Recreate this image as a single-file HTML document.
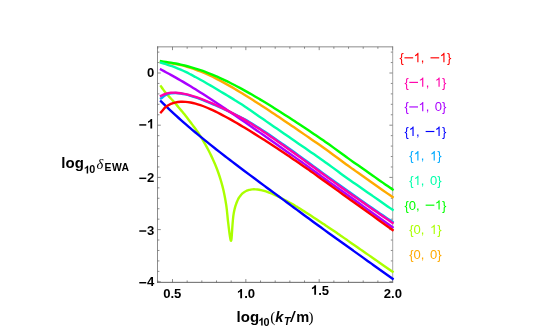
<!DOCTYPE html><html><head><meta charset="utf-8"><style>html,body{margin:0;padding:0;background:#fff}svg{display:block}text{font-family:"Liberation Sans",sans-serif}.b{font-weight:bold}.s{font-family:"Liberation Serif",serif;font-style:italic}.p{font-family:"Liberation Serif",serif}</style></head><body>
<svg width="548" height="329" viewBox="0 0 548 329">
<rect width="548" height="329" fill="#fff"/>
<defs><clipPath id="c"><rect x="157.5" y="46.5" width="237.10000000000002" height="236.0"/></clipPath></defs>
<path d="M157.83,282.35 v-1.90 M157.83,46.85 v1.90 M172.50,282.35 v-3.30 M172.50,46.85 v3.30 M187.17,282.35 v-1.90 M187.17,46.85 v1.90 M201.84,282.35 v-1.90 M201.84,46.85 v1.90 M216.51,282.35 v-1.90 M216.51,46.85 v1.90 M231.18,282.35 v-1.90 M231.18,46.85 v1.90 M245.85,282.35 v-3.30 M245.85,46.85 v3.30 M260.52,282.35 v-1.90 M260.52,46.85 v1.90 M275.19,282.35 v-1.90 M275.19,46.85 v1.90 M289.86,282.35 v-1.90 M289.86,46.85 v1.90 M304.53,282.35 v-1.90 M304.53,46.85 v1.90 M319.20,282.35 v-3.30 M319.20,46.85 v3.30 M333.87,282.35 v-1.90 M333.87,46.85 v1.90 M348.54,282.35 v-1.90 M348.54,46.85 v1.90 M363.21,282.35 v-1.90 M363.21,46.85 v1.90 M377.88,282.35 v-1.90 M377.88,46.85 v1.90 M392.55,282.35 v-3.30 M392.55,46.85 v3.30 M157.50,281.80 h3.30 M392.70,281.80 h-3.30 M157.50,271.36 h1.90 M392.70,271.36 h-1.90 M157.50,260.92 h1.90 M392.70,260.92 h-1.90 M157.50,250.48 h1.90 M392.70,250.48 h-1.90 M157.50,240.04 h1.90 M392.70,240.04 h-1.90 M157.50,229.60 h3.30 M392.70,229.60 h-3.30 M157.50,219.16 h1.90 M392.70,219.16 h-1.90 M157.50,208.72 h1.90 M392.70,208.72 h-1.90 M157.50,198.28 h1.90 M392.70,198.28 h-1.90 M157.50,187.84 h1.90 M392.70,187.84 h-1.90 M157.50,177.40 h3.30 M392.70,177.40 h-3.30 M157.50,166.96 h1.90 M392.70,166.96 h-1.90 M157.50,156.52 h1.90 M392.70,156.52 h-1.90 M157.50,146.08 h1.90 M392.70,146.08 h-1.90 M157.50,135.64 h1.90 M392.70,135.64 h-1.90 M157.50,125.20 h3.30 M392.70,125.20 h-3.30 M157.50,114.76 h1.90 M392.70,114.76 h-1.90 M157.50,104.32 h1.90 M392.70,104.32 h-1.90 M157.50,93.88 h1.90 M392.70,93.88 h-1.90 M157.50,83.44 h1.90 M392.70,83.44 h-1.90 M157.50,73.00 h3.30 M392.70,73.00 h-3.30 M157.50,62.56 h1.90 M392.70,62.56 h-1.90 M157.50,52.12 h1.90 M392.70,52.12 h-1.90" fill="none" stroke="#666" stroke-width="0.75"/>
<path d="M157.50,46.45 V282.75" fill="none" stroke="#666" stroke-width="0.75"/>
<path d="M157.10,46.85 H393.10" fill="none" stroke="#666" stroke-width="0.75"/>
<path d="M157.10,282.35 H393.10" fill="none" stroke="#555" stroke-width="0.9"/>
<path d="M392.70,46.45 V282.75" fill="none" stroke="#888" stroke-width="0.75"/>
<g clip-path="url(#c)">
<path d="M161.00,61.98 C162.64,62.21 164.29,62.44 165.93,62.68 C167.57,62.91 169.22,63.12 170.86,63.37 C172.50,63.63 174.15,63.89 175.78,64.19 C177.43,64.49 179.08,64.82 180.71,65.19 C182.36,65.56 184.01,65.96 185.64,66.40 C187.29,66.85 188.93,67.34 190.57,67.85 C192.22,68.37 193.86,68.93 195.49,69.52 C197.15,70.12 198.79,70.75 200.42,71.40 C202.08,72.07 203.72,72.76 205.35,73.48 C207.00,74.20 208.64,74.96 210.28,75.73 C211.93,76.51 213.57,77.32 215.20,78.14 C216.86,78.97 218.50,79.82 220.13,80.68 C221.78,81.56 223.42,82.45 225.06,83.35 C226.71,84.26 228.35,85.19 229.99,86.12 C231.64,87.07 233.28,88.02 234.91,88.99 C236.56,89.96 238.21,90.94 239.84,91.93 C241.49,92.93 243.13,93.93 244.77,94.95 C246.42,95.96 248.06,96.99 249.70,98.02 C251.34,99.06 252.99,100.10 254.63,101.15 C256.27,102.20 257.91,103.26 259.55,104.32 C261.20,105.38 262.84,106.45 264.48,107.53 C266.13,108.60 267.77,109.69 269.41,110.77 C271.05,111.86 272.70,112.95 274.34,114.04 C275.98,115.14 277.62,116.24 279.26,117.34 C280.91,118.45 282.55,119.55 284.19,120.66 C285.84,121.77 287.48,122.89 289.12,124.00 C290.76,125.12 292.41,126.24 294.05,127.36 C295.69,128.48 297.33,129.61 298.97,130.73 C300.62,131.86 302.26,132.99 303.90,134.12 C305.55,135.25 307.19,136.38 308.83,137.52 C310.47,138.65 312.12,139.79 313.76,140.93 C315.40,142.06 317.05,143.20 318.69,144.34 C320.33,145.49 321.98,146.64 323.61,147.80 C325.26,148.97 326.90,150.15 328.54,151.34 C330.19,152.53 331.83,153.74 333.47,154.94 C335.11,156.15 336.75,157.36 338.40,158.57 C340.04,159.79 341.68,161.00 343.32,162.21 C344.96,163.41 346.60,164.62 348.25,165.81 C349.89,167.00 351.53,168.18 353.18,169.35 C354.82,170.52 356.46,171.67 358.11,172.82 C359.75,173.98 361.39,175.13 363.03,176.29 C364.68,177.45 366.32,178.60 367.96,179.76 C369.60,180.91 371.25,182.07 372.89,183.23 C374.53,184.38 376.17,185.54 377.82,186.69 C379.46,187.85 381.10,189.00 382.74,190.15 C384.39,191.31 386.03,192.46 387.67,193.61 C389.31,194.76 390.96,195.91 392.60,197.06" fill="none" stroke="#ffaa00" stroke-width="2.4" stroke-linejoin="round" stroke-linecap="square"/>
<path d="M161.00,86.36 C161.64,87.29 162.25,88.24 162.92,89.14 C163.54,89.99 164.18,90.81 164.84,91.63 C165.46,92.40 166.11,93.16 166.76,93.91 C167.39,94.64 168.03,95.36 168.68,96.08 C169.31,96.79 169.96,97.49 170.60,98.19 C171.24,98.88 171.88,99.57 172.52,100.27 C173.16,100.98 173.81,101.70 174.44,102.42 C175.09,103.15 175.72,103.89 176.36,104.63 C177.00,105.38 177.64,106.14 178.28,106.90 C178.92,107.66 179.56,108.44 180.20,109.21 C180.84,109.98 181.48,110.76 182.12,111.53 C182.76,112.31 183.41,113.08 184.04,113.87 C184.69,114.66 185.33,115.46 185.96,116.27 C186.61,117.09 187.25,117.91 187.88,118.74 C188.53,119.59 189.16,120.44 189.80,121.30 C190.44,122.15 191.08,123.01 191.72,123.87 C192.36,124.72 193.00,125.56 193.64,126.41 C194.28,127.27 194.93,128.12 195.56,128.99 C196.21,129.88 196.85,130.77 197.48,131.67 C198.13,132.62 198.78,133.58 199.40,134.54 C200.06,135.56 200.69,136.59 201.32,137.63 C201.97,138.69 202.61,139.76 203.24,140.83 C203.89,141.94 204.53,143.05 205.16,144.17 C205.81,145.32 206.45,146.48 207.08,147.65 C207.73,148.86 208.37,150.07 209.00,151.29 C209.65,152.56 210.29,153.85 210.92,155.13 C211.58,156.48 212.22,157.84 212.84,159.21 C213.50,160.65 214.14,162.11 214.76,163.57 C215.42,165.14 216.06,166.71 216.68,168.30 C217.35,170.02 217.99,171.76 218.60,173.50 C219.28,175.44 219.92,177.39 220.52,179.35 C221.21,181.60 221.85,183.86 222.44,186.14 C223.15,188.87 223.79,191.63 224.36,194.40 C225.11,198.02 225.73,201.69 226.28,205.35 C227.15,211.17 227.45,217.07 228.20,222.91 C228.96,228.82 230.02,239.32 230.80,240.60 C232.01,242.59 232.03,222.00 233.80,212.88 C233.86,212.58 233.92,212.27 233.98,211.96 C234.10,211.39 234.22,210.81 234.35,210.24 C234.51,209.55 234.67,208.86 234.85,208.17 C235.04,207.43 235.25,206.70 235.47,205.97 C235.69,205.24 235.92,204.51 236.18,203.79 C236.43,203.09 236.70,202.39 236.99,201.70 C237.27,201.05 237.56,200.40 237.88,199.76 C238.19,199.16 238.51,198.56 238.85,197.98 C239.18,197.44 239.53,196.90 239.90,196.38 C240.25,195.90 240.63,195.42 241.02,194.96 C241.40,194.53 241.80,194.11 242.21,193.72 C242.61,193.34 243.03,192.98 243.47,192.64 C243.89,192.32 244.33,192.01 244.79,191.73 C245.24,191.46 245.70,191.21 246.17,190.98 C246.64,190.75 247.13,190.55 247.62,190.37 C248.11,190.20 248.61,190.04 249.12,189.91 C249.63,189.78 250.16,189.67 250.68,189.58 C251.22,189.50 251.76,189.43 252.30,189.39 C252.85,189.34 253.41,189.32 253.97,189.31 C254.54,189.31 255.12,189.32 255.69,189.36 C256.29,189.39 256.88,189.45 257.47,189.51 C258.08,189.58 258.69,189.68 259.30,189.78 C259.93,189.88 260.56,190.01 261.18,190.15 C261.83,190.29 262.47,190.45 263.11,190.61 C263.77,190.79 264.43,190.98 265.09,191.18 C265.77,191.38 266.44,191.60 267.12,191.83 C267.81,192.07 268.50,192.32 269.19,192.57 C269.90,192.84 270.61,193.12 271.31,193.40 C272.04,193.69 272.76,194.00 273.48,194.31 C274.22,194.63 274.95,194.96 275.69,195.29 C276.44,195.64 277.20,196.00 277.94,196.36 C278.71,196.73 279.48,197.11 280.24,197.49 C281.03,197.89 281.81,198.29 282.59,198.70 C283.39,199.11 284.18,199.54 284.98,199.97 C285.79,200.41 286.60,200.85 287.40,201.30 C288.23,201.76 289.05,202.23 289.88,202.70 C290.72,203.18 291.55,203.66 292.39,204.15 C293.24,204.65 294.09,205.16 294.94,205.67 C295.81,206.18 296.67,206.71 297.54,207.23 C298.42,207.77 299.30,208.31 300.17,208.85 C301.07,209.40 301.96,209.96 302.85,210.52 C303.75,211.09 304.66,211.66 305.56,212.23 C306.48,212.82 307.40,213.40 308.31,213.99 C309.25,214.59 310.18,215.19 311.11,215.80 C312.05,216.41 312.99,217.02 313.94,217.64 C314.89,218.27 315.85,218.89 316.81,219.52 C317.77,220.16 318.74,220.80 319.71,221.44 C320.69,222.09 321.67,222.75 322.65,223.40 C323.65,224.06 324.64,224.72 325.63,225.39 C326.64,226.06 327.65,226.74 328.65,227.41 C329.67,228.10 330.69,228.78 331.70,229.47 C332.74,230.16 333.77,230.86 334.79,231.57 C335.84,232.28 336.88,232.99 337.92,233.71 C338.97,234.44 340.03,235.17 341.08,235.90 C342.15,236.63 343.21,237.37 344.28,238.12 C345.35,238.87 346.43,239.62 347.51,240.37 C348.60,241.13 349.69,241.89 350.77,242.65 C351.87,243.42 352.97,244.19 354.08,244.95 C355.19,245.73 356.30,246.51 357.41,247.28 C358.53,248.06 359.66,248.84 360.78,249.62 C361.91,250.41 363.05,251.20 364.18,251.99 C365.33,252.78 366.47,253.58 367.62,254.37 C368.78,255.18 369.93,255.98 371.09,256.78 C372.26,257.59 373.42,258.40 374.59,259.22 C375.77,260.03 376.95,260.85 378.13,261.67 C379.32,262.49 380.51,263.32 381.70,264.14 C382.90,264.98 384.10,265.81 385.30,266.64 C386.51,267.48 387.72,268.32 388.93,269.16 C390.16,270.01 391.38,270.85 392.60,271.70" fill="none" stroke="#aaff00" stroke-width="2.4" stroke-linejoin="miter" stroke-miterlimit="10" stroke-linecap="square"/>
<path d="M161.00,61.22 C162.64,61.45 164.29,61.66 165.93,61.90 C167.57,62.14 169.22,62.39 170.86,62.67 C172.50,62.94 174.14,63.23 175.78,63.55 C177.43,63.87 179.07,64.21 180.71,64.57 C182.36,64.93 184.00,65.32 185.64,65.73 C187.29,66.15 188.93,66.58 190.57,67.05 C192.22,67.51 193.86,68.00 195.49,68.52 C197.14,69.03 198.79,69.57 200.42,70.14 C202.07,70.71 203.71,71.30 205.35,71.91 C207.00,72.53 208.64,73.17 210.28,73.82 C211.93,74.49 213.57,75.17 215.20,75.87 C216.85,76.58 218.50,77.31 220.13,78.05 C221.78,78.80 223.42,79.57 225.06,80.35 C226.71,81.14 228.35,81.95 229.99,82.77 C231.64,83.59 233.28,84.43 234.91,85.28 C236.56,86.14 238.21,87.01 239.84,87.89 C241.49,88.77 243.13,89.67 244.77,90.58 C246.42,91.49 248.06,92.42 249.70,93.35 C251.35,94.29 252.99,95.24 254.63,96.20 C256.27,97.16 257.91,98.13 259.55,99.10 C261.20,100.09 262.84,101.08 264.48,102.07 C266.13,103.07 267.77,104.08 269.41,105.09 C271.05,106.11 272.70,107.13 274.34,108.16 C275.98,109.19 277.62,110.22 279.26,111.26 C280.91,112.31 282.55,113.36 284.19,114.41 C285.84,115.47 287.48,116.53 289.12,117.59 C290.76,118.66 292.41,119.73 294.05,120.81 C295.69,121.88 297.33,122.97 298.97,124.05 C300.62,125.13 302.26,126.22 303.90,127.31 C305.55,128.41 307.19,129.51 308.83,130.60 C310.47,131.70 312.12,132.81 313.76,133.91 C315.40,135.02 317.05,136.13 318.69,137.24 C320.33,138.36 321.98,139.48 323.61,140.61 C325.26,141.76 326.90,142.92 328.54,144.09 C330.19,145.26 331.83,146.44 333.47,147.63 C335.11,148.82 336.75,150.02 338.40,151.22 C340.04,152.41 341.68,153.61 343.32,154.81 C344.96,156.00 346.60,157.20 348.25,158.38 C349.89,159.56 351.53,160.73 353.18,161.90 C354.82,163.06 356.46,164.20 358.11,165.35 C359.75,166.50 361.39,167.65 363.03,168.80 C364.68,169.95 366.32,171.10 367.96,172.26 C369.60,173.41 371.25,174.56 372.89,175.71 C374.53,176.87 376.17,178.02 377.82,179.17 C379.46,180.33 381.10,181.48 382.74,182.64 C384.39,183.79 386.03,184.94 387.67,186.10 C389.31,187.25 390.96,188.41 392.60,189.56" fill="none" stroke="#00ff00" stroke-width="2.4" stroke-linejoin="round" stroke-linecap="square"/>
<path d="M161.00,62.69 C162.64,63.20 164.29,63.71 165.93,64.23 C167.57,64.75 169.22,65.26 170.86,65.81 C172.51,66.37 174.16,66.92 175.78,67.55 C177.44,68.19 179.08,68.89 180.71,69.60 C182.37,70.33 184.01,71.09 185.64,71.89 C187.30,72.69 188.93,73.55 190.57,74.40 C192.22,75.27 193.85,76.17 195.49,77.06 C197.14,77.95 198.78,78.82 200.42,79.72 C202.07,80.62 203.72,81.52 205.35,82.45 C207.00,83.40 208.64,84.38 210.28,85.35 C211.92,86.34 213.56,87.34 215.20,88.33 C216.84,89.32 218.48,90.31 220.13,91.28 C221.77,92.25 223.42,93.18 225.06,94.14 C226.71,95.12 228.35,96.10 229.99,97.10 C231.64,98.11 233.27,99.14 234.91,100.16 C236.56,101.19 238.21,102.21 239.84,103.26 C241.49,104.31 243.14,105.38 244.77,106.46 C246.43,107.57 248.06,108.71 249.70,109.84 C251.34,110.97 252.98,112.12 254.63,113.26 C256.27,114.40 257.91,115.54 259.55,116.68 C261.20,117.82 262.84,118.95 264.48,120.09 C266.12,121.23 267.77,122.37 269.41,123.50 C271.05,124.64 272.69,125.77 274.34,126.91 C275.98,128.04 277.62,129.18 279.26,130.31 C280.91,131.45 282.55,132.58 284.19,133.71 C285.83,134.85 287.48,135.98 289.12,137.11 C290.76,138.25 292.40,139.38 294.05,140.51 C295.69,141.64 297.33,142.77 298.97,143.91 C300.62,145.04 302.26,146.17 303.90,147.30 C305.54,148.44 307.19,149.57 308.83,150.70 C310.47,151.83 312.12,152.97 313.76,154.10 C315.40,155.23 317.05,156.36 318.69,157.50 C320.33,158.65 321.98,159.79 323.61,160.95 C325.26,162.12 326.90,163.32 328.54,164.51 C330.19,165.72 331.83,166.93 333.47,168.15 C335.11,169.37 336.75,170.59 338.40,171.81 C340.04,173.02 341.67,174.23 343.32,175.43 C344.96,176.62 346.60,177.80 348.25,178.97 C349.89,180.12 351.54,181.26 353.18,182.40 C354.82,183.55 356.46,184.69 358.11,185.83 C359.75,186.98 361.39,188.12 363.03,189.26 C364.68,190.41 366.32,191.55 367.96,192.70 C369.60,193.84 371.25,194.98 372.89,196.13 C374.53,197.27 376.17,198.42 377.82,199.56 C379.46,200.70 381.10,201.85 382.74,202.99 C384.39,204.13 386.03,205.28 387.67,206.42 C389.31,207.56 390.96,208.70 392.60,209.84" fill="none" stroke="#00ffaa" stroke-width="2.4" stroke-linejoin="round" stroke-linecap="square"/>
<path d="M161.00,98.40 C162.64,97.28 164.15,95.88 165.93,95.03 C167.47,94.29 169.17,93.75 170.86,93.42 C172.46,93.11 174.14,93.05 175.78,93.06 C177.43,93.07 179.08,93.27 180.71,93.49 C182.37,93.73 184.01,94.06 185.64,94.44 C187.30,94.83 188.93,95.32 190.57,95.81 C192.22,96.32 193.86,96.87 195.49,97.44 C197.14,98.00 198.79,98.59 200.42,99.20 C202.07,99.82 203.71,100.47 205.35,101.12 C207.00,101.78 208.64,102.47 210.28,103.16 C211.92,103.85 213.57,104.55 215.20,105.27 C216.85,105.99 218.49,106.73 220.13,107.47 C221.78,108.21 223.42,108.97 225.06,109.72 C226.70,110.47 228.35,111.21 229.99,111.97 C231.64,112.74 233.28,113.52 234.91,114.31 C236.56,115.11 238.21,115.91 239.84,116.74 C241.50,117.59 243.14,118.47 244.77,119.37 C246.43,120.28 248.07,121.22 249.70,122.17 C251.35,123.15 252.99,124.14 254.63,125.16 C256.28,126.18 257.92,127.23 259.55,128.29 C261.20,129.36 262.84,130.44 264.48,131.53 C266.13,132.62 267.77,133.73 269.41,134.84 C271.06,135.96 272.70,137.09 274.34,138.22 C275.98,139.35 277.62,140.49 279.26,141.63 C280.91,142.77 282.55,143.91 284.19,145.06 C285.84,146.22 287.48,147.38 289.12,148.54 C290.77,149.71 292.41,150.89 294.05,152.07 C295.69,153.25 297.33,154.44 298.97,155.63 C300.62,156.83 302.26,158.03 303.90,159.22 C305.55,160.42 307.19,161.63 308.83,162.83 C310.47,164.03 312.11,165.24 313.76,166.44 C315.40,167.64 317.04,168.85 318.69,170.05 C320.33,171.24 321.97,172.44 323.61,173.64 C325.25,174.83 326.90,176.02 328.54,177.21 C330.18,178.39 331.82,179.57 333.47,180.75 C335.11,181.93 336.75,183.10 338.40,184.27 C340.04,185.44 341.68,186.61 343.32,187.78 C344.97,188.95 346.61,190.12 348.25,191.29 C349.89,192.45 351.53,193.61 353.18,194.77 C354.82,195.93 356.46,197.09 358.11,198.25 C359.75,199.40 361.39,200.55 363.03,201.70 C364.68,202.85 366.32,204.00 367.96,205.14 C369.60,206.29 371.25,207.43 372.89,208.56 C374.53,209.70 376.17,210.83 377.82,211.96 C379.46,213.09 381.10,214.21 382.74,215.34 C384.39,216.46 386.03,217.58 387.67,218.69 C389.31,219.80 390.96,220.91 392.60,222.02" fill="none" stroke="#00aaff" stroke-width="2.4" stroke-linejoin="round" stroke-linecap="square"/>
<path d="M161.00,101.34 C162.64,102.96 164.27,104.58 165.93,106.18 C167.56,107.76 169.20,109.31 170.86,110.86 C172.49,112.39 174.13,113.90 175.78,115.40 C177.42,116.89 179.06,118.36 180.71,119.83 C182.34,121.28 183.99,122.72 185.64,124.15 C187.27,125.57 188.92,126.98 190.57,128.38 C192.20,129.78 193.85,131.16 195.49,132.54 C197.13,133.91 198.77,135.27 200.42,136.63 C202.06,137.97 203.70,139.31 205.35,140.65 C206.99,141.98 208.63,143.30 210.28,144.62 C211.92,145.93 213.56,147.23 215.20,148.53 C216.84,149.83 218.49,151.12 220.13,152.40 C221.77,153.68 223.41,154.96 225.06,156.23 C226.70,157.50 228.34,158.76 229.99,160.03 C231.63,161.28 233.27,162.54 234.91,163.79 C236.56,165.03 238.20,166.28 239.84,167.52 C241.48,168.76 243.13,169.99 244.77,171.22 C246.41,172.45 248.05,173.68 249.70,174.91 C251.34,176.13 252.98,177.35 254.63,178.57 C256.27,179.79 257.91,181.00 259.55,182.21 C261.20,183.43 262.84,184.64 264.48,185.85 C266.12,187.06 267.77,188.28 269.41,189.49 C271.05,190.70 272.69,191.91 274.34,193.13 C275.98,194.34 277.62,195.55 279.26,196.77 C280.91,197.98 282.55,199.19 284.19,200.41 C285.83,201.62 287.48,202.83 289.12,204.04 C290.76,205.26 292.40,206.47 294.05,207.68 C295.69,208.89 297.33,210.10 298.97,211.31 C300.62,212.52 302.26,213.73 303.90,214.94 C305.54,216.14 307.19,217.35 308.83,218.56 C310.47,219.76 312.11,220.96 313.76,222.17 C315.40,223.37 317.04,224.57 318.69,225.77 C320.33,226.96 321.97,228.16 323.61,229.35 C325.25,230.55 326.90,231.74 328.54,232.93 C330.18,234.12 331.82,235.30 333.47,236.49 C335.11,237.67 336.75,238.85 338.40,240.03 C340.04,241.20 341.68,242.38 343.32,243.55 C344.97,244.73 346.61,245.90 348.25,247.07 C349.89,248.25 351.54,249.42 353.18,250.60 C354.82,251.77 356.46,252.94 358.11,254.11 C359.75,255.29 361.39,256.46 363.03,257.63 C364.68,258.81 366.32,259.98 367.96,261.15 C369.60,262.32 371.25,263.49 372.89,264.67 C374.53,265.84 376.17,267.01 377.82,268.18 C379.46,269.35 381.10,270.52 382.74,271.69 C384.39,272.87 386.03,274.04 387.67,275.21 C389.31,276.38 390.96,277.55 392.60,278.72" fill="none" stroke="#0000ff" stroke-width="2.4" stroke-linejoin="round" stroke-linecap="square"/>
<path d="M161.00,69.50 C162.64,70.39 164.29,71.29 165.93,72.19 C167.57,73.09 169.22,73.99 170.86,74.90 C172.50,75.81 174.14,76.72 175.78,77.65 C177.43,78.58 179.07,79.52 180.71,80.47 C182.36,81.42 184.00,82.38 185.64,83.35 C187.29,84.33 188.93,85.32 190.57,86.31 C192.21,87.31 193.86,88.32 195.49,89.34 C197.14,90.36 198.78,91.39 200.42,92.43 C202.07,93.47 203.71,94.52 205.35,95.58 C207.00,96.64 208.64,97.70 210.28,98.77 C211.92,99.85 213.56,100.93 215.20,102.01 C216.85,103.10 218.49,104.19 220.13,105.29 C221.78,106.39 223.42,107.49 225.06,108.60 C226.70,109.71 228.35,110.82 229.99,111.94 C231.63,113.06 233.27,114.18 234.91,115.30 C236.56,116.43 238.20,117.55 239.84,118.68 C241.49,119.82 243.13,120.95 244.77,122.08 C246.41,123.22 248.06,124.36 249.70,125.50 C251.34,126.64 252.98,127.78 254.63,128.93 C256.27,130.07 257.91,131.22 259.55,132.36 C261.20,133.51 262.84,134.66 264.48,135.81 C266.12,136.96 267.77,138.12 269.41,139.27 C271.05,140.42 272.69,141.58 274.34,142.73 C275.98,143.89 277.62,145.05 279.26,146.20 C280.91,147.36 282.55,148.52 284.19,149.68 C285.83,150.84 287.48,152.00 289.12,153.16 C290.76,154.32 292.40,155.48 294.05,156.64 C295.69,157.81 297.33,158.97 298.97,160.13 C300.62,161.30 302.26,162.46 303.90,163.64 C305.55,164.81 307.19,165.99 308.83,167.18 C310.47,168.36 312.12,169.55 313.76,170.74 C315.40,171.93 317.04,173.13 318.69,174.32 C320.33,175.51 321.97,176.71 323.61,177.90 C325.25,179.09 326.90,180.28 328.54,181.46 C330.18,182.65 331.82,183.83 333.47,185.01 C335.11,186.19 336.75,187.36 338.40,188.53 C340.04,189.70 341.68,190.88 343.32,192.05 C344.97,193.22 346.61,194.40 348.25,195.57 C349.89,196.74 351.54,197.91 353.18,199.09 C354.82,200.26 356.46,201.43 358.11,202.60 C359.75,203.78 361.39,204.95 363.03,206.12 C364.68,207.29 366.32,208.46 367.96,209.63 C369.60,210.81 371.25,211.98 372.89,213.15 C374.53,214.32 376.17,215.49 377.82,216.66 C379.46,217.83 381.10,219.00 382.74,220.16 C384.39,221.33 386.03,222.50 387.67,223.67 C389.31,224.84 390.96,226.00 392.60,227.17" fill="none" stroke="#aa00ff" stroke-width="2.4" stroke-linejoin="round" stroke-linecap="square"/>
<path d="M161.00,95.90 C162.64,95.18 164.22,94.26 165.93,93.74 C167.52,93.25 169.20,92.98 170.86,92.81 C172.48,92.64 174.14,92.64 175.78,92.70 C177.43,92.77 179.08,92.95 180.71,93.19 C182.36,93.42 184.01,93.76 185.64,94.12 C187.29,94.50 188.93,94.94 190.57,95.40 C192.22,95.87 193.86,96.40 195.49,96.94 C197.15,97.49 198.79,98.08 200.42,98.68 C202.07,99.29 203.71,99.92 205.35,100.58 C207.00,101.24 208.64,101.92 210.28,102.61 C211.93,103.31 213.57,104.03 215.20,104.77 C216.85,105.51 218.50,106.26 220.13,107.03 C221.78,107.81 223.42,108.60 225.06,109.41 C226.71,110.22 228.35,111.04 229.99,111.88 C231.64,112.72 233.28,113.58 234.91,114.45 C236.56,115.33 238.21,116.21 239.84,117.11 C241.49,118.03 243.14,118.95 244.77,119.90 C246.42,120.86 248.06,121.84 249.70,122.84 C251.35,123.84 252.99,124.87 254.63,125.90 C256.28,126.95 257.92,128.01 259.55,129.08 C261.20,130.15 262.84,131.25 264.48,132.34 C266.13,133.45 267.77,134.56 269.41,135.68 C271.06,136.80 272.70,137.93 274.34,139.06 C275.98,140.20 277.62,141.34 279.26,142.48 C280.91,143.63 282.55,144.77 284.19,145.92 C285.84,147.08 287.48,148.24 289.12,149.40 C290.77,150.58 292.41,151.76 294.05,152.94 C295.69,154.12 297.33,155.31 298.97,156.50 C300.62,157.70 302.26,158.90 303.90,160.10 C305.55,161.30 307.19,162.50 308.83,163.71 C310.47,164.91 312.11,166.12 313.76,167.32 C315.40,168.52 317.04,169.73 318.69,170.93 C320.33,172.13 321.97,173.33 323.61,174.52 C325.25,175.72 326.90,176.91 328.54,178.10 C330.18,179.28 331.82,180.46 333.47,181.64 C335.11,182.82 336.75,183.99 338.40,185.16 C340.04,186.34 341.68,187.51 343.32,188.68 C344.97,189.85 346.61,191.01 348.25,192.18 C349.89,193.34 351.53,194.51 353.18,195.67 C354.82,196.83 356.46,197.99 358.11,199.14 C359.75,200.30 361.39,201.45 363.03,202.60 C364.68,203.75 366.32,204.90 367.96,206.04 C369.60,207.18 371.25,208.32 372.89,209.46 C374.53,210.60 376.17,211.73 377.82,212.86 C379.46,213.99 381.10,215.11 382.74,216.24 C384.39,217.36 386.03,218.48 387.67,219.59 C389.31,220.70 390.96,221.81 392.60,222.92" fill="none" stroke="#ff00aa" stroke-width="2.4" stroke-linejoin="round" stroke-linecap="square"/>
<path d="M161.00,112.26 C162.64,110.44 164.03,108.31 165.93,106.80 C167.41,105.62 169.11,104.59 170.86,103.83 C172.42,103.15 174.11,102.67 175.78,102.32 C177.40,101.99 179.06,101.82 180.71,101.74 C182.35,101.66 184.00,101.71 185.64,101.84 C187.29,101.97 188.94,102.23 190.57,102.53 C192.22,102.83 193.87,103.23 195.49,103.67 C197.15,104.11 198.79,104.63 200.42,105.18 C202.08,105.75 203.72,106.36 205.35,107.01 C207.01,107.66 208.65,108.36 210.28,109.09 C211.93,109.82 213.57,110.59 215.20,111.38 C216.86,112.18 218.50,113.01 220.13,113.85 C221.78,114.70 223.42,115.57 225.06,116.45 C226.71,117.35 228.35,118.25 229.99,119.17 C231.64,120.09 233.28,121.03 234.91,121.97 C236.56,122.92 238.21,123.88 239.84,124.85 C241.49,125.83 243.13,126.81 244.77,127.80 C246.42,128.80 248.06,129.81 249.70,130.82 C251.34,131.83 252.98,132.86 254.63,133.88 C256.27,134.90 257.91,135.92 259.55,136.95 C261.20,137.99 262.84,139.02 264.48,140.06 C266.13,141.10 267.77,142.15 269.41,143.21 C271.06,144.27 272.70,145.33 274.34,146.40 C275.98,147.48 277.63,148.57 279.26,149.67 C280.91,150.77 282.55,151.88 284.19,152.98 C285.84,154.09 287.48,155.20 289.12,156.32 C290.76,157.43 292.41,158.55 294.05,159.67 C295.69,160.79 297.33,161.90 298.97,163.03 C300.62,164.16 302.26,165.28 303.90,166.42 C305.55,167.57 307.19,168.72 308.83,169.88 C310.48,171.04 312.12,172.22 313.76,173.39 C315.40,174.56 317.04,175.75 318.69,176.93 C320.33,178.11 321.97,179.30 323.61,180.49 C325.26,181.67 326.90,182.86 328.54,184.05 C330.18,185.23 331.82,186.42 333.47,187.60 C335.11,188.77 336.75,189.95 338.40,191.12 C340.04,192.30 341.68,193.48 343.32,194.65 C344.97,195.83 346.61,197.01 348.25,198.19 C349.89,199.36 351.54,200.54 353.18,201.72 C354.82,202.90 356.46,204.08 358.11,205.26 C359.75,206.44 361.39,207.62 363.03,208.80 C364.68,209.98 366.32,211.16 367.96,212.34 C369.60,213.52 371.25,214.70 372.89,215.88 C374.53,217.06 376.17,218.24 377.82,219.42 C379.46,220.60 381.10,221.78 382.74,222.96 C384.39,224.14 386.03,225.32 387.67,226.50 C389.31,227.68 390.96,228.86 392.60,230.04" fill="none" stroke="#ff0000" stroke-width="2.4" stroke-linejoin="round" stroke-linecap="square"/>
</g>
<defs><mask id="m" maskUnits="userSpaceOnUse" x="0" y="0" width="548" height="329"><rect width="548" height="329" fill="#fff"/></mask></defs><g mask="url(#m)">
<text class="b" x="163.20" y="298.30" font-size="13.1">0</text><text class="b" x="170.48" y="298.30" font-size="13.1">.</text><text class="b" x="174.12" y="298.30" font-size="13.1">5</text>
<path d="M806,0H525V1059Q371,915 162,846V1101Q272,1137 401,1237.5Q530,1338 578,1472H806Z" fill="#000" transform="translate(236.90,298.30) scale(0.00640,-0.00640)"/><text class="b" x="244.18" y="298.30" font-size="13.1">.</text><text class="b" x="247.82" y="298.30" font-size="13.1">0</text>
<path d="M806,0H525V1059Q371,915 162,846V1101Q272,1137 401,1237.5Q530,1338 578,1472H806Z" fill="#000" transform="translate(310.90,294.70) scale(0.00640,-0.00640)"/><text class="b" x="318.18" y="294.70" font-size="13.1">.</text><text class="b" x="321.82" y="294.70" font-size="13.1">5</text>
<text class="b" x="383.80" y="298.10" font-size="13.1">2</text><text class="b" x="391.08" y="298.10" font-size="13.1">.</text><text class="b" x="394.72" y="298.10" font-size="13.1">0</text>
<text class="b" x="147.02" y="77.40" font-size="13.1">0</text>
<rect x="139.28" y="124.20" width="7.0" height="1.45" fill="#000"/><path d="M806,0H525V1059Q371,915 162,846V1101Q272,1137 401,1237.5Q530,1338 578,1472H806Z" fill="#000" transform="translate(147.02,128.40) scale(0.00640,-0.00640)"/>
<rect x="139.28" y="177.60" width="7.0" height="1.45" fill="#000"/><text class="b" x="147.02" y="181.80" font-size="13.1">2</text>
<rect x="139.28" y="230.30" width="7.0" height="1.45" fill="#000"/><text class="b" x="147.02" y="234.50" font-size="13.1">3</text>
<rect x="139.28" y="282.00" width="7.0" height="1.45" fill="#000"/><text class="b" x="147.02" y="286.20" font-size="13.1">4</text>
<text class="b" x="61.3" y="168.2" font-size="15.0" >log</text>
<path d="M806,0H525V1059Q371,915 162,846V1101Q272,1137 401,1237.5Q530,1338 578,1472H806Z" fill="#000" transform="translate(83.90,173.40) scale(0.00527,-0.00527)"/>
<text class="b" x="89.3" y="173.39999999999998" font-size="10.8" >0</text>
<text class="s" x="96.6" y="168.5" font-size="14.5" >δ</text>
<text class="b" x="104.6" y="171.0" font-size="10.4" letter-spacing="0.4">EWA</text>
<text class="b" x="236.6" y="321.6" font-size="15.0" >log</text>
<path d="M806,0H525V1059Q371,915 162,846V1101Q272,1137 401,1237.5Q530,1338 578,1472H806Z" fill="#000" transform="translate(258.40,325.60) scale(0.00527,-0.00527)"/>
<text class="b" x="263.6" y="325.6" font-size="10.8" >0</text>
<text class="p" x="270.2" y="321.6" font-size="15" >(</text>
<text class="b" x="275.2" y="321.6" font-size="14.6" font-style="italic">k</text>
<text class="b" x="284.0" y="324.90000000000003" font-size="10.4" font-style="italic">T</text>
<text class="b" x="290.6" y="321.6" font-size="14.6" font-style="italic">/</text>
<text class="b" x="296.2" y="321.6" font-size="14.6" >m</text>
<text class="p" x="308.6" y="321.6" font-size="15" >)</text>
<text x="399.57" y="62.20" font-size="13.0" fill="#ff0000">{</text><rect x="404.46" y="57.25" width="8.7" height="1.15" fill="#ff0000"/><path d="M763,0H583V1147Q518,1085 412.5,1023Q307,961 223,930V1104Q374,1175 487,1276Q600,1377 647,1472H763Z" fill="#ff0000" transform="translate(413.61,62.20) scale(0.00635,-0.00635)"/><text x="420.84" y="62.20" font-size="13.0" fill="#ff0000">,</text><rect x="430.50" y="57.25" width="8.7" height="1.15" fill="#ff0000"/><path d="M763,0H583V1147Q518,1085 412.5,1023Q307,961 223,930V1104Q374,1175 487,1276Q600,1377 647,1472H763Z" fill="#ff0000" transform="translate(439.65,62.20) scale(0.00635,-0.00635)"/><text x="446.88" y="62.20" font-size="13.0" fill="#ff0000">}</text>
<text x="404.42" y="86.76" font-size="13.0" fill="#ff00aa">{</text><rect x="409.31" y="81.81" width="8.7" height="1.15" fill="#ff00aa"/><path d="M763,0H583V1147Q518,1085 412.5,1023Q307,961 223,930V1104Q374,1175 487,1276Q600,1377 647,1472H763Z" fill="#ff00aa" transform="translate(418.46,86.76) scale(0.00635,-0.00635)"/><text x="425.69" y="86.76" font-size="13.0" fill="#ff00aa">,</text><path d="M763,0H583V1147Q518,1085 412.5,1023Q307,961 223,930V1104Q374,1175 487,1276Q600,1377 647,1472H763Z" fill="#ff00aa" transform="translate(434.80,86.76) scale(0.00635,-0.00635)"/><text x="442.03" y="86.76" font-size="13.0" fill="#ff00aa">}</text>
<text x="404.42" y="111.32" font-size="13.0" fill="#aa00ff">{</text><rect x="409.31" y="106.37" width="8.7" height="1.15" fill="#aa00ff"/><path d="M763,0H583V1147Q518,1085 412.5,1023Q307,961 223,930V1104Q374,1175 487,1276Q600,1377 647,1472H763Z" fill="#aa00ff" transform="translate(418.46,111.32) scale(0.00635,-0.00635)"/><text x="425.69" y="111.32" font-size="13.0" fill="#aa00ff">,</text><text x="434.80" y="111.32" font-size="13.0" fill="#aa00ff">0</text><text x="442.03" y="111.32" font-size="13.0" fill="#aa00ff">}</text>
<text x="404.42" y="135.88" font-size="13.0" fill="#0000ff">{</text><path d="M763,0H583V1147Q518,1085 412.5,1023Q307,961 223,930V1104Q374,1175 487,1276Q600,1377 647,1472H763Z" fill="#0000ff" transform="translate(408.76,135.88) scale(0.00635,-0.00635)"/><text x="415.99" y="135.88" font-size="13.0" fill="#0000ff">,</text><rect x="425.65" y="130.93" width="8.7" height="1.15" fill="#0000ff"/><path d="M763,0H583V1147Q518,1085 412.5,1023Q307,961 223,930V1104Q374,1175 487,1276Q600,1377 647,1472H763Z" fill="#0000ff" transform="translate(434.80,135.88) scale(0.00635,-0.00635)"/><text x="442.03" y="135.88" font-size="13.0" fill="#0000ff">}</text>
<text x="409.27" y="160.44" font-size="13.0" fill="#00aaff">{</text><path d="M763,0H583V1147Q518,1085 412.5,1023Q307,961 223,930V1104Q374,1175 487,1276Q600,1377 647,1472H763Z" fill="#00aaff" transform="translate(413.61,160.44) scale(0.00635,-0.00635)"/><text x="420.84" y="160.44" font-size="13.0" fill="#00aaff">,</text><path d="M763,0H583V1147Q518,1085 412.5,1023Q307,961 223,930V1104Q374,1175 487,1276Q600,1377 647,1472H763Z" fill="#00aaff" transform="translate(429.95,160.44) scale(0.00635,-0.00635)"/><text x="437.19" y="160.44" font-size="13.0" fill="#00aaff">}</text>
<text x="409.27" y="185.00" font-size="13.0" fill="#00ffaa">{</text><path d="M763,0H583V1147Q518,1085 412.5,1023Q307,961 223,930V1104Q374,1175 487,1276Q600,1377 647,1472H763Z" fill="#00ffaa" transform="translate(413.61,185.00) scale(0.00635,-0.00635)"/><text x="420.84" y="185.00" font-size="13.0" fill="#00ffaa">,</text><text x="429.95" y="185.00" font-size="13.0" fill="#00ffaa">0</text><text x="437.19" y="185.00" font-size="13.0" fill="#00ffaa">}</text>
<text x="404.42" y="209.56" font-size="13.0" fill="#00ff00">{</text><text x="408.76" y="209.56" font-size="13.0" fill="#00ff00">0</text><text x="415.99" y="209.56" font-size="13.0" fill="#00ff00">,</text><rect x="425.65" y="204.61" width="8.7" height="1.15" fill="#00ff00"/><path d="M763,0H583V1147Q518,1085 412.5,1023Q307,961 223,930V1104Q374,1175 487,1276Q600,1377 647,1472H763Z" fill="#00ff00" transform="translate(434.80,209.56) scale(0.00635,-0.00635)"/><text x="442.03" y="209.56" font-size="13.0" fill="#00ff00">}</text>
<text x="409.27" y="234.12" font-size="13.0" fill="#aaff00">{</text><text x="413.61" y="234.12" font-size="13.0" fill="#aaff00">0</text><text x="420.84" y="234.12" font-size="13.0" fill="#aaff00">,</text><path d="M763,0H583V1147Q518,1085 412.5,1023Q307,961 223,930V1104Q374,1175 487,1276Q600,1377 647,1472H763Z" fill="#aaff00" transform="translate(429.95,234.12) scale(0.00635,-0.00635)"/><text x="437.19" y="234.12" font-size="13.0" fill="#aaff00">}</text>
<text x="409.27" y="258.68" font-size="13.0" fill="#ffaa00">{</text><text x="413.61" y="258.68" font-size="13.0" fill="#ffaa00">0</text><text x="420.84" y="258.68" font-size="13.0" fill="#ffaa00">,</text><text x="429.95" y="258.68" font-size="13.0" fill="#ffaa00">0</text><text x="437.19" y="258.68" font-size="13.0" fill="#ffaa00">}</text>
</g>
</svg></body></html>
